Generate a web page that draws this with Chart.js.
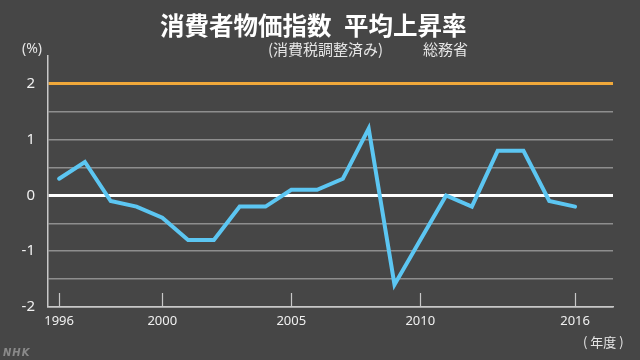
<!DOCTYPE html>
<html>
<head>
<meta charset="utf-8">
<script src="https://cdn.jsdelivr.net/npm/chart.js@4"></script>
<style>
  html, body { margin: 0; padding: 0; background: #464646; }
  #wrap { position: relative; width: 640px; height: 360px; background: #464646; overflow: hidden; }
  #wrap canvas { position: absolute; left: 0; top: 0; }
  .t { position: absolute; white-space: nowrap; font-family: "Noto Sans CJK JP", "Noto Sans", sans-serif; }
  #title { left: 160px; top: 12px; font-size: 24.5px; line-height: 26px; font-weight: bold; color: #ffffff; word-spacing: 7px; }
  #sub { left: 268px; top: 40px; font-size: 15px; line-height: 18px; color: #e6e6e6; }
  #src { left: 423px; top: 40px; font-size: 15px; line-height: 18px; color: #e6e6e6; }
  #unit { left: 22px; top: 39px; font-size: 14px; line-height: 18px; color: #e6e6e6; font-family: "Noto Sans", sans-serif; }
  #xunit { left: 583px; top: 333px; font-size: 13px; line-height: 18px; color: #e6e6e6; }
  #logo { left: 3px; top: 347px; font-size: 10px; line-height: 12px; color: #8a8a8a; font-style: italic; font-weight: bold; letter-spacing: 1px; font-family: "DejaVu Sans", sans-serif; }
</style>
</head>
<body>
<div id="wrap">
  <canvas id="c" width="640" height="360"></canvas>
  <div class="t" id="title">消費者物価指数 平均上昇率</div>
  <div class="t" id="sub">(消費税調整済み)</div>
  <div class="t" id="src">総務省</div>
  <div class="t" id="unit">(%)</div>
  <div class="t" id="xunit">( 年度 )</div>
  <div class="t" id="logo">NHK</div>
</div>
<script>
// ---- data ----
const years = [1996,1997,1998,1999,2000,2001,2002,2003,2004,2005,2006,2007,2008,2009,2010,2011,2012,2013,2014,2015,2016];
const rates = [0.3,0.6,-0.1,-0.2,-0.4,-0.8,-0.8,-0.2,-0.2,0.1,0.1,0.3,1.2,-1.6,-0.8,0.0,-0.2,0.8,0.8,-0.1,-0.2];
const xTickYears = [1996, 2000, 2005, 2010, 2016];
const yTickValues = [-2,-1.5,-1,-0.5,0,0.5,1,1.5,2];
const targetRate = 2;

const points = years.map((y, i) => ({ x: y, y: rates[i] }));

const tickMarks = {
  id: 'tickMarks',
  afterDatasetsDraw(chart) {
    const xs = chart.scales.x;
    const bottom = chart.chartArea.bottom;
    const ctx = chart.ctx;
    ctx.save();
    ctx.strokeStyle = '#c8c8c8';
    ctx.lineWidth = 1.2;
    xTickYears.forEach(v => {
      const px = Math.round(xs.getPixelForValue(v)) + 0.5;
      ctx.beginPath();
      ctx.moveTo(px, bottom);
      ctx.lineTo(px, bottom - 14);
      ctx.stroke();
    });
    ctx.restore();
  }
};

new Chart(document.getElementById('c'), {
  type: 'line',
  data: {
    datasets: [{
      data: points,
      borderColor: '#5cc6f2',
      borderWidth: 4,
      pointRadius: 0,
      tension: 0,
      borderCapStyle: 'round',
      borderJoinStyle: 'miter',
      fill: false
    }]
  },
  options: {
    responsive: false,
    animation: false,
    layout: { padding: { top: 56, right: 27, left: 0, bottom: 0 } },
    plugins: { legend: { display: false }, tooltip: { enabled: false }, title: { display: false } },
    scales: {
      x: {
        type: 'linear',
        min: 1995.57,
        max: 2017.47,
        afterBuildTicks: s => { s.ticks = xTickYears.map(v => ({ value: v })); },
        afterFit: s => { s.height = 53; },
        grid: { display: false, drawTicks: false },
        border: { display: true, color: '#c8c8c8', width: 1.5 },
        ticks: {
          padding: 6,
          color: '#f0f0f0',
          font: { family: 'Noto Sans', size: 13 },
          maxRotation: 0,
          autoSkip: false,
          callback: v => String(v)
        }
      },
      y: {
        min: -2,
        max: 2.5,
        afterBuildTicks: s => { s.ticks = yTickValues.map(v => ({ value: v })); },
        afterFit: s => { s.width = 48; },
        grid: {
          drawTicks: false,
          color: c => c.tick.value === targetRate ? '#f0a83a' : (c.tick.value === 0 ? '#ffffff' : (c.tick.value === -2 ? '#c8c8c8' : '#8e8e8e')),
          lineWidth: c => (c.tick.value === targetRate || c.tick.value === 0) ? 3 : 1.5
        },
        border: { display: true, color: '#c8c8c8', width: 1.5 },
        ticks: {
          padding: 13,
          color: '#f0f0f0',
          font: { family: 'Noto Sans', size: 15 },
          autoSkip: false,
          callback: v => Number.isInteger(v) ? String(v) : ''
        }
      }
    }
  },
  plugins: [tickMarks]
});
</script>
</body>
</html>
